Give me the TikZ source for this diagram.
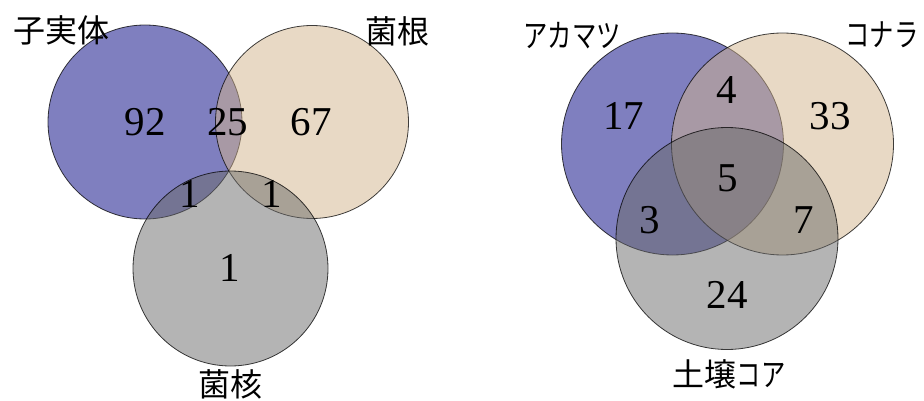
\documentclass[tikz,border=0pt]{standalone}
\usepackage{graphicx}
\usepackage{fontspec}
\setmainfont{Liberation Serif}
\newfontfamily\jp{Noto Sans CJK JP}
\newcommand{\narrowkana}[1]{\scalebox{0.76}[1]{#1}}
\definecolor{cpurple}{RGB}{0,0,128}
\definecolor{ctan}{RGB}{210,180,140}
\definecolor{cgray}{RGB}{105,105,105}
\begin{document}
\begin{tikzpicture}[x=1pt,y=-1pt,
  set/.style={circle,draw=black,draw opacity=0.75,line width=0.8pt,fill opacity=0.5,inner sep=0pt},
  num/.style={inner sep=0pt,anchor=center,font=\fontsize{41}{41}\selectfont},
  lab/.style={inner sep=0pt,anchor=center,font=\jp\fontsize{32}{32}\selectfont}]
\useasboundingbox (0,0) rectangle (924,401);
% left diagram
\node[set,fill=cpurple,minimum size=194pt] (A) at (145,122) {};
\node[set,fill=ctan,minimum size=193pt] (B) at (312,122) {};
\node[set,fill=cgray,minimum size=195pt] (C) at (230.5,268.5) {};
\node[num] (n92) at (145,122.5) {92};
\node[num] (n25) at (227.5,122.5) {25};
\node[num] (n67) at (311,122.5) {67};
\node[num] (n1a) at (190,193.5) {1};
\node[num] (n1b) at (272,193.5) {1};
\node[num] (n1c) at (230,267.5) {1};
\node[lab] (la) at (61,30) {子実体};
\node[lab] (lb) at (397,31) {菌根};
\node[lab] (lc) at (230,384) {菌核};
% right diagram
\node[set,fill=cpurple,minimum size=222pt] (D) at (672.5,144) {};
\node[set,fill=ctan,minimum size=222pt] (E) at (782.5,144) {};
\node[set,fill=cgray,minimum size=222pt] (F) at (727,238.5) {};
\node[num] (n17) at (623.5,116) {17};
\node[num] (n4) at (727,90) {4};
\node[num] (n33) at (830,116.5) {33};
\node[num] (n5) at (728,178) {5};
\node[num] (n3) at (650,220) {3};
\node[num] (n7) at (804,220) {7};
\node[num] (n24) at (727,295) {24};
\node[lab] (ld) at (572,36) {\narrowkana{アカマツ}};
\node[lab] (le) at (882,35) {\narrowkana{コナラ}};
\node[lab] (lf) at (729,374) {土壌\narrowkana{コア}};
\end{tikzpicture}
\end{document}
